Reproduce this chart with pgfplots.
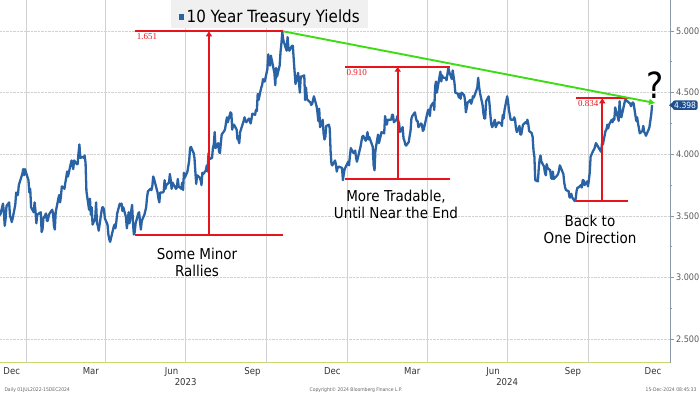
\documentclass[border=0pt]{standalone}
\usepackage{fontspec}
\setmainfont{DejaVu Sans Condensed}
\newfontfamily\numfont{Liberation Serif}
\usepackage{pgfplots}
\pgfplotsset{compat=1.18}
\usetikzlibrary{arrows.meta}
\definecolor{bbblue}{HTML}{2A62A6}
\definecolor{bbred}{HTML}{E8141B}
\definecolor{bbgreen}{HTML}{3EDC14}
\definecolor{gridc}{HTML}{D2D2D2}
\definecolor{axc}{HTML}{8A98A8}
\definecolor{botc}{HTML}{C8D86A}
\definecolor{lblbox}{HTML}{1F4F8F}
\begin{document}
\begin{tikzpicture}[x=1pt,y=1pt]
\begin{axis}[
  at={(0,0)}, anchor=south west,
  scale only axis, width=670pt, height=362.7pt,
  xmin=-30.4, xmax=732.4, ymin=2.310, ymax=5.251,
  axis x line*=bottom, axis y line*=right,
  x axis line style={botc, line width=0.8pt, -},
  y axis line style={axc, line width=0.8pt, -},
  xtick={-17,73,165,257,348,439,531,622,713},
  xticklabels={Dec,Mar,Jun,Sep,Dec,Mar,Jun,Sep,Dec},
  extra x ticks={0,90,181,273,365,456,547,639},
  extra x tick labels={},
  extra x tick style={grid=major, major grid style={gridc, line width=0.6pt}},
  xtick style={draw=none},
  ytick={2.5,3,3.5,4,4.5,5},
  yticklabels={2.500,3.000,3.500,4.000,4.500,5.000},
  minor ytick={2.75,3.25,3.75,4.25,4.75},
  ymajorgrids, y grid style={gridc, densely dotted, line width=0.6pt},
  ytick style={axc, line width=0.6pt},
  tick align=outside, major tick length=4pt, minor tick length=2pt,
  yticklabel style={font=\fontsize{9}{10}\selectfont, text=black!65, xshift=-1.5pt},
  xticklabel style={font=\fontsize{9.5}{10}\selectfont, text=black!80, yshift=3pt},
  clip=false,
]
\addplot[bbblue, line width=2.3pt, line join=round, no markers] table[row sep=\\] {x y\\
-31 3.53\\ -30 3.51\\ -27 3.60\\ -26 3.53\\ -25 3.42\\ -24 3.48\\ -23 3.58\\ -20 3.61\\ -19 3.50\\ -18 3.48\\ -17 3.45\\ -16 3.48\\ -13 3.59\\ -12 3.69\\ -11 3.67\\ -10 3.67\\ -9 3.75\\ -5 3.84\\ -4 3.88\\ -3 3.83\\ -2 3.88\\
2 3.79\\ 3 3.69\\ 4 3.72\\ 5 3.57\\ 8 3.53\\ 9 3.61\\ 10 3.54\\ 11 3.44\\ 12 3.51\\ 16 3.53\\ 17 3.37\\ 18 3.39\\ 19 3.48\\ 22 3.52\\ 23 3.46\\ 24 3.46\\ 25 3.50\\ 26 3.52\\ 29 3.55\\ 30 3.52\\
31 3.42\\ 32 3.39\\ 33 3.53\\ 36 3.64\\ 37 3.67\\ 38 3.61\\ 39 3.66\\ 40 3.74\\ 43 3.72\\ 44 3.77\\ 45 3.81\\ 46 3.86\\ 47 3.82\\ 51 3.95\\ 52 3.92\\ 53 3.88\\ 54 3.95\\ 57 3.92\\ 58 3.92\\
59 4.01\\ 60 4.08\\ 61 3.97\\ 64 3.98\\ 65 3.97\\ 66 3.99\\ 67 3.93\\ 68 3.70\\ 71 3.55\\ 72 3.64\\ 73 3.51\\ 74 3.57\\ 75 3.43\\ 78 3.48\\ 79 3.61\\ 80 3.44\\ 81 3.42\\ 82 3.38\\ 85 3.53\\ 86 3.57\\ 87 3.57\\ 88 3.55\\ 89 3.48\\
92 3.43\\ 93 3.35\\ 94 3.31\\ 95 3.29\\ 99 3.41\\ 100 3.43\\ 101 3.40\\ 102 3.45\\ 103 3.52\\ 106 3.60\\ 107 3.59\\ 108 3.60\\ 109 3.54\\ 110 3.57\\ 113 3.49\\ 114 3.40\\ 115 3.45\\ 116 3.53\\ 117 3.44\\
120 3.59\\ 121 3.44\\ 122 3.35\\ 123 3.37\\ 124 3.44\\ 127 3.52\\ 128 3.53\\ 129 3.45\\ 130 3.39\\ 131 3.46\\ 134 3.51\\ 135 3.54\\ 136 3.57\\ 137 3.65\\ 138 3.70\\ 141 3.72\\ 142 3.71\\ 143 3.74\\ 144 3.82\\ 145 3.80\\ 149 3.69\\ 150 3.64\\
151 3.61\\ 152 3.69\\ 155 3.69\\ 156 3.70\\ 157 3.79\\ 158 3.72\\ 159 3.75\\ 162 3.77\\ 163 3.84\\ 164 3.79\\ 165 3.72\\ 166 3.77\\ 170 3.72\\ 171 3.73\\ 172 3.80\\ 173 3.74\\ 176 3.72\\ 177 3.77\\ 178 3.71\\ 179 3.85\\ 180 3.81\\
183 3.86\\ 185 3.95\\ 186 4.05\\ 187 4.06\\ 190 4.01\\ 191 3.97\\ 192 3.86\\ 193 3.76\\ 194 3.83\\ 197 3.81\\ 198 3.79\\ 199 3.75\\ 200 3.85\\ 201 3.84\\ 204 3.87\\ 205 3.91\\ 206 3.86\\ 207 4.01\\ 208 3.96\\ 211 3.97\\
212 4.05\\ 213 4.08\\ 214 4.18\\ 215 4.05\\ 218 4.09\\ 219 4.02\\ 220 4.01\\ 221 4.09\\ 222 4.16\\ 225 4.19\\ 226 4.21\\ 227 4.26\\ 228 4.30\\ 229 4.26\\ 232 4.34\\ 233 4.33\\ 234 4.20\\ 235 4.24\\ 236 4.24\\ 239 4.20\\ 240 4.12\\ 241 4.12\\ 242 4.09\\
243 4.18\\ 247 4.27\\ 248 4.30\\ 249 4.27\\ 250 4.26\\ 253 4.29\\ 254 4.27\\ 255 4.25\\ 256 4.29\\ 257 4.33\\ 260 4.32\\ 261 4.36\\ 262 4.35\\ 263 4.49\\ 264 4.44\\ 267 4.54\\ 268 4.56\\ 269 4.61\\ 270 4.59\\ 271 4.59\\
274 4.69\\ 275 4.81\\ 276 4.73\\ 277 4.72\\ 278 4.80\\ 282 4.66\\ 283 4.56\\ 284 4.70\\ 285 4.63\\ 288 4.72\\ 289 4.83\\ 290 4.90\\ 291 4.99\\ 292 4.93\\ 295 4.86\\ 296 4.84\\ 297 4.95\\ 298 4.86\\ 299 4.84\\ 302 4.88\\ 303 4.88\\
304 4.77\\ 305 4.67\\ 306 4.57\\ 309 4.66\\ 310 4.58\\ 311 4.50\\ 312 4.63\\ 313 4.63\\ 316 4.64\\ 317 4.44\\ 318 4.54\\ 319 4.45\\ 320 4.44\\ 323 4.42\\ 324 4.40\\ 325 4.41\\ 327 4.47\\ 330 4.39\\ 331 4.34\\ 332 4.27\\ 333 4.37\\
334 4.22\\ 337 4.28\\ 338 4.17\\ 339 4.12\\ 340 4.14\\ 341 4.23\\ 344 4.24\\ 345 4.21\\ 346 4.02\\ 347 3.92\\ 348 3.91\\ 351 3.95\\ 352 3.92\\ 353 3.86\\ 354 3.89\\ 355 3.90\\ 359 3.89\\ 360 3.79\\ 361 3.84\\ 362 3.88\\
366 3.94\\ 367 3.91\\ 368 3.99\\ 369 4.05\\ 372 4.01\\ 373 4.02\\ 374 4.03\\ 375 3.97\\ 376 3.94\\ 380 4.06\\ 381 4.10\\ 382 4.14\\ 383 4.15\\ 386 4.11\\ 387 4.14\\ 388 4.18\\ 389 4.12\\ 390 4.14\\ 393 4.08\\ 394 4.06\\ 395 3.91\\
396 3.87\\ 397 4.03\\ 400 4.16\\ 401 4.09\\ 402 4.12\\ 403 4.15\\ 404 4.18\\ 407 4.17\\ 408 4.31\\ 409 4.27\\ 410 4.24\\ 411 4.28\\ 415 4.28\\ 416 4.32\\ 417 4.32\\ 418 4.26\\ 421 4.28\\ 422 4.31\\ 423 4.27\\ 424 4.25\\
425 4.18\\ 428 4.22\\ 429 4.13\\ 430 4.11\\ 431 4.08\\ 432 4.07\\ 435 4.10\\ 436 4.15\\ 437 4.19\\ 438 4.29\\ 439 4.31\\ 442 4.34\\ 443 4.30\\ 444 4.27\\ 445 4.27\\ 446 4.22\\ 449 4.25\\ 450 4.24\\ 451 4.19\\ 452 4.20\\
456 4.33\\ 457 4.36\\ 458 4.36\\ 459 4.31\\ 460 4.39\\ 463 4.42\\ 464 4.36\\ 465 4.55\\ 466 4.59\\ 467 4.50\\ 470 4.63\\ 471 4.67\\ 472 4.59\\ 473 4.64\\ 474 4.62\\ 477 4.62\\ 478 4.60\\ 479 4.65\\ 480 4.70\\ 481 4.67\\ 484 4.61\\ 485 4.68\\
486 4.63\\ 487 4.58\\ 488 4.50\\ 491 4.49\\ 492 4.46\\ 493 4.49\\ 494 4.45\\ 495 4.50\\ 498 4.48\\ 499 4.44\\ 500 4.34\\ 501 4.38\\ 502 4.42\\ 505 4.44\\ 506 4.41\\ 507 4.43\\ 508 4.47\\ 509 4.46\\ 513 4.54\\ 514 4.62\\ 515 4.55\\ 516 4.50\\
519 4.40\\ 520 4.33\\ 521 4.29\\ 522 4.29\\ 523 4.43\\ 526 4.47\\ 527 4.40\\ 528 4.31\\ 529 4.24\\ 530 4.22\\ 533 4.28\\ 534 4.22\\ 536 4.25\\ 537 4.26\\ 540 4.25\\ 541 4.23\\ 542 4.32\\ 543 4.29\\ 544 4.36\\
547 4.47\\ 548 4.43\\ 549 4.36\\ 551 4.28\\ 554 4.28\\ 555 4.30\\ 556 4.28\\ 557 4.21\\ 558 4.18\\ 561 4.23\\ 562 4.16\\ 563 4.16\\ 564 4.20\\ 565 4.24\\ 568 4.26\\ 569 4.25\\ 570 4.28\\ 571 4.25\\ 572 4.19\\ 575 4.17\\ 576 4.14\\ 577 4.03\\
578 3.98\\ 579 3.79\\ 582 3.78\\ 583 3.89\\ 584 3.96\\ 585 3.99\\ 586 3.94\\ 589 3.90\\ 590 3.85\\ 591 3.83\\ 592 3.92\\ 593 3.89\\ 596 3.87\\ 597 3.81\\ 598 3.80\\ 599 3.86\\ 600 3.80\\ 603 3.82\\ 604 3.83\\ 605 3.84\\ 606 3.87\\ 607 3.91\\
611 3.84\\ 612 3.77\\ 613 3.73\\ 614 3.71\\ 617 3.70\\ 618 3.65\\ 619 3.65\\ 620 3.68\\ 621 3.65\\ 624 3.62\\ 625 3.64\\ 626 3.70\\ 627 3.73\\ 628 3.73\\ 631 3.75\\ 632 3.73\\ 633 3.79\\ 634 3.79\\ 635 3.75\\ 638 3.78\\
639 3.74\\ 640 3.79\\ 641 3.85\\ 642 3.98\\ 645 4.03\\ 646 4.04\\ 647 4.06\\ 648 4.09\\ 649 4.08\\ 653 4.03\\ 654 4.02\\ 655 4.09\\ 656 4.08\\ 659 4.19\\ 660 4.20\\ 661 4.24\\ 662 4.21\\ 663 4.24\\ 666 4.28\\ 667 4.26\\ 668 4.29\\ 669 4.28\\
670 4.38\\ 673 4.30\\ 674 4.27\\ 675 4.43\\ 676 4.33\\ 677 4.30\\ 681 4.43\\ 682 4.45\\ 683 4.43\\ 684 4.43\\ 687 4.41\\ 688 4.39\\ 689 4.41\\ 690 4.42\\ 691 4.41\\ 694 4.27\\ 695 4.30\\ 696 4.25\\ 698 4.17\\
701 4.19\\ 702 4.23\\ 703 4.18\\ 704 4.17\\ 705 4.15\\ 708 4.20\\ 709 4.22\\ 710 4.27\\ 711 4.32\\ 712 4.40\\
};
% bracket 1
\draw[bbred, line width=1.9pt] (axis cs:123.3,4.997) -- (axis cs:292,4.997);
\draw[bbred, line width=1.9pt] (axis cs:123.3,3.346) -- (axis cs:292,3.346);
\draw[bbred, line width=1.9pt, -{Triangle[width=6pt,length=5pt]}] (axis cs:207.5,3.346) -- (axis cs:207.5,4.997);
\node[bbred, font=\numfont\fontsize{9}{10}\selectfont, anchor=north west, inner sep=1pt] at (axis cs:124,4.985) {1.651};
% bracket 2
\draw[bbred, line width=1.9pt] (axis cs:362.4,4.710) -- (axis cs:481.9,4.710);
\draw[bbred, line width=1.9pt] (axis cs:362.4,3.800) -- (axis cs:481.9,3.800);
\draw[bbred, line width=1.9pt, -{Triangle[width=6pt,length=5pt]}] (axis cs:422.4,3.800) -- (axis cs:422.4,4.710);
\node[bbred, font=\numfont\fontsize{9}{10}\selectfont, anchor=north west, inner sep=1pt] at (axis cs:363,4.698) {0.910};
% bracket 3
\draw[bbred, line width=1.9pt] (axis cs:625.9,4.454) -- (axis cs:684.5,4.454);
\draw[bbred, line width=1.9pt] (axis cs:625.9,3.621) -- (axis cs:684.5,3.621);
\draw[bbred, line width=1.9pt, -{Triangle[width=6pt,length=5pt]}] (axis cs:655.3,3.621) -- (axis cs:655.3,4.454);
\node[bbred, font=\numfont\fontsize{9}{10}\selectfont, anchor=north west, inner sep=1pt] at (axis cs:626.5,4.442) {0.834};
% trend line
\draw[bbgreen, line width=1.9pt, -{Triangle[width=6pt,length=6pt]}] (axis cs:292,4.997) -- (axis cs:715.3,4.416);
% texts
\node[align=center, font=\fontsize{15}{17}\selectfont] at (axis cs:193.9,3.12) {Some Minor\\Rallies};
\node[align=center, font=\fontsize{15}{17}\selectfont] at (axis cs:420.4,3.597) {More Tradable,\\Until Near the End};
\node[align=center, font=\fontsize{15}{17}\selectfont] at (axis cs:641.3,3.394) {Back to\\One Direction};
\node[font=\fontsize{36}{36}\selectfont] at (axis cs:715.3,4.56) {?};
% year labels
\node[font=\fontsize{9.5}{10}\selectfont, text=black!80] at (axis cs:181,2.310) [yshift=-19.5pt] {2023};
\node[font=\fontsize{9.5}{10}\selectfont, text=black!80] at (axis cs:547,2.310) [yshift=-19.5pt] {2024};
\end{axis}
% legend
\fill[gray!12] (171,334.7) rectangle (368,362.7);
\fill[bbblue] (179.3,342.7) rectangle (184,348.7);
\node[anchor=base west, font=\fontsize{16.8}{17}\selectfont, inner sep=0pt] at (186.5,340) {10 Year Treasury Yields};
% last value box
\fill[lblbox] (669,257.5) -- (673.5,261) -- (673.5,254) -- cycle;
\node[fill=lblbox, text=white, font=\fontsize{8.5}{9}\selectfont, rounded corners=2pt, inner sep=1.5pt, anchor=west] at (672.5,257.5) {4.398};
% footer
\node[anchor=west, font=\fontsize{5}{6}\selectfont, text=black!60] at (1,-27.3) {Daily 01JUL2022-15DEC2024};
\node[font=\fontsize{5}{6}\selectfont, text=black!60] at (356,-27.3) {Copyright\textcopyright{} 2024 Bloomberg Finance L.P.};
\node[anchor=east, font=\fontsize{5}{6}\selectfont, text=black!60] at (700,-27.3) {15-Dec-2024 08:45:33};
\pgfresetboundingbox
\useasboundingbox (0,-31.3) rectangle (700,362.7);
\end{tikzpicture}
\end{document}
